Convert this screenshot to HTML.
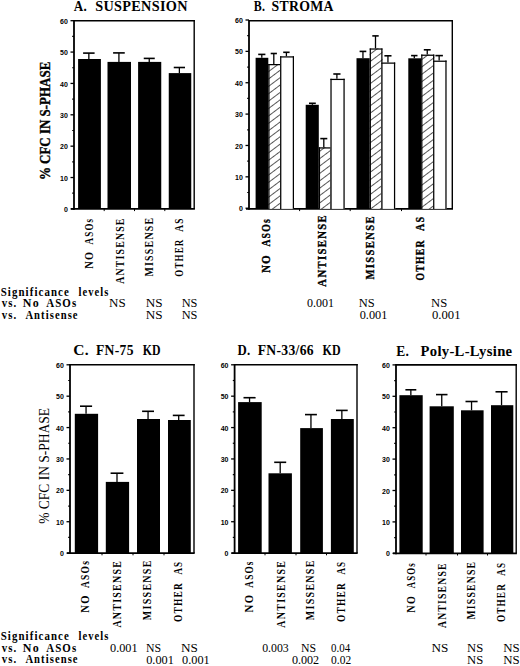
<!DOCTYPE html><html><head><meta charset="utf-8"><style>html,body{margin:0;padding:0;background:#fff;}svg{display:block;}</style></head><body>
<svg width="520" height="666" viewBox="0 0 520 666">
<defs><pattern id="hatch" patternUnits="userSpaceOnUse" width="10" height="5.9" patternTransform="rotate(-37)"><rect width="10" height="5.9" fill="#fff"/><line x1="-1" y1="0" x2="11" y2="0" stroke="#000" stroke-width="1.3"/></pattern></defs>
<rect width="520" height="666" fill="#fff"/>
<line x1="74.00" y1="20.70" x2="194.90" y2="20.70" stroke="#000" stroke-width="1.6"/>
<line x1="194.20" y1="19.90" x2="194.20" y2="208.90" stroke="#000" stroke-width="1.4"/>
<line x1="74.00" y1="19.90" x2="74.00" y2="209.80" stroke="#000" stroke-width="1.8"/>
<line x1="71.00" y1="208.90" x2="194.90" y2="208.90" stroke="#000" stroke-width="1.8"/>
<line x1="70.50" y1="208.90" x2="74.00" y2="208.90" stroke="#000" stroke-width="1.3"/>
<text x="67.90" y="212.00" font-size="7.0" font-family='"Liberation Sans", sans-serif' font-weight="bold" text-anchor="end">0</text>
<line x1="72.20" y1="193.22" x2="74.00" y2="193.22" stroke="#000" stroke-width="1.2"/>
<line x1="70.50" y1="177.53" x2="74.00" y2="177.53" stroke="#000" stroke-width="1.3"/>
<text x="67.90" y="180.63" font-size="7.0" font-family='"Liberation Sans", sans-serif' font-weight="bold" text-anchor="end">10</text>
<line x1="72.20" y1="161.85" x2="74.00" y2="161.85" stroke="#000" stroke-width="1.2"/>
<line x1="70.50" y1="146.17" x2="74.00" y2="146.17" stroke="#000" stroke-width="1.3"/>
<text x="67.90" y="149.27" font-size="7.0" font-family='"Liberation Sans", sans-serif' font-weight="bold" text-anchor="end">20</text>
<line x1="72.20" y1="130.48" x2="74.00" y2="130.48" stroke="#000" stroke-width="1.2"/>
<line x1="70.50" y1="114.80" x2="74.00" y2="114.80" stroke="#000" stroke-width="1.3"/>
<text x="67.90" y="117.90" font-size="7.0" font-family='"Liberation Sans", sans-serif' font-weight="bold" text-anchor="end">30</text>
<line x1="72.20" y1="99.12" x2="74.00" y2="99.12" stroke="#000" stroke-width="1.2"/>
<line x1="70.50" y1="83.43" x2="74.00" y2="83.43" stroke="#000" stroke-width="1.3"/>
<text x="67.90" y="86.53" font-size="7.0" font-family='"Liberation Sans", sans-serif' font-weight="bold" text-anchor="end">40</text>
<line x1="72.20" y1="67.75" x2="74.00" y2="67.75" stroke="#000" stroke-width="1.2"/>
<line x1="70.50" y1="52.07" x2="74.00" y2="52.07" stroke="#000" stroke-width="1.3"/>
<text x="67.90" y="55.17" font-size="7.0" font-family='"Liberation Sans", sans-serif' font-weight="bold" text-anchor="end">50</text>
<line x1="72.20" y1="36.38" x2="74.00" y2="36.38" stroke="#000" stroke-width="1.2"/>
<line x1="70.50" y1="20.70" x2="74.00" y2="20.70" stroke="#000" stroke-width="1.3"/>
<text x="67.90" y="23.80" font-size="7.0" font-family='"Liberation Sans", sans-serif' font-weight="bold" text-anchor="end">60</text>
<line x1="104.20" y1="208.90" x2="104.20" y2="211.10" stroke="#000" stroke-width="1.0"/>
<line x1="134.50" y1="208.90" x2="134.50" y2="211.10" stroke="#000" stroke-width="1.0"/>
<line x1="164.80" y1="208.90" x2="164.80" y2="211.10" stroke="#000" stroke-width="1.0"/>
<rect x="78.10" y="59.00" width="22.80" height="149.90" fill="#000"/>
<line x1="88.85" y1="53.10" x2="88.85" y2="59.00" stroke="#000" stroke-width="1.3"/>
<line x1="83.10" y1="53.10" x2="94.60" y2="53.10" stroke="#000" stroke-width="1.6"/>
<rect x="107.50" y="61.90" width="23.50" height="147.00" fill="#000"/>
<line x1="118.92" y1="52.90" x2="118.92" y2="61.90" stroke="#000" stroke-width="1.3"/>
<line x1="113.10" y1="52.90" x2="124.75" y2="52.90" stroke="#000" stroke-width="1.6"/>
<rect x="138.10" y="61.90" width="23.15" height="147.00" fill="#000"/>
<line x1="149.25" y1="58.40" x2="149.25" y2="61.90" stroke="#000" stroke-width="1.3"/>
<line x1="143.75" y1="58.40" x2="154.75" y2="58.40" stroke="#000" stroke-width="1.6"/>
<rect x="168.75" y="73.10" width="22.50" height="135.80" fill="#000"/>
<line x1="179.38" y1="67.50" x2="179.38" y2="73.10" stroke="#000" stroke-width="1.3"/>
<line x1="173.75" y1="67.50" x2="185.00" y2="67.50" stroke="#000" stroke-width="1.6"/>
<line x1="249.00" y1="20.70" x2="453.00" y2="20.70" stroke="#000" stroke-width="1.6"/>
<line x1="452.30" y1="19.90" x2="452.30" y2="208.90" stroke="#000" stroke-width="1.4"/>
<line x1="249.00" y1="19.90" x2="249.00" y2="209.80" stroke="#000" stroke-width="1.8"/>
<line x1="246.00" y1="208.90" x2="453.00" y2="208.90" stroke="#000" stroke-width="1.8"/>
<line x1="245.50" y1="208.20" x2="249.00" y2="208.20" stroke="#000" stroke-width="1.3"/>
<text x="242.90" y="211.30" font-size="7.0" font-family='"Liberation Sans", sans-serif' font-weight="bold" text-anchor="end">0</text>
<line x1="247.20" y1="192.52" x2="249.00" y2="192.52" stroke="#000" stroke-width="1.2"/>
<line x1="245.50" y1="176.83" x2="249.00" y2="176.83" stroke="#000" stroke-width="1.3"/>
<text x="242.90" y="179.93" font-size="7.0" font-family='"Liberation Sans", sans-serif' font-weight="bold" text-anchor="end">10</text>
<line x1="247.20" y1="161.15" x2="249.00" y2="161.15" stroke="#000" stroke-width="1.2"/>
<line x1="245.50" y1="145.47" x2="249.00" y2="145.47" stroke="#000" stroke-width="1.3"/>
<text x="242.90" y="148.57" font-size="7.0" font-family='"Liberation Sans", sans-serif' font-weight="bold" text-anchor="end">20</text>
<line x1="247.20" y1="129.78" x2="249.00" y2="129.78" stroke="#000" stroke-width="1.2"/>
<line x1="245.50" y1="114.10" x2="249.00" y2="114.10" stroke="#000" stroke-width="1.3"/>
<text x="242.90" y="117.20" font-size="7.0" font-family='"Liberation Sans", sans-serif' font-weight="bold" text-anchor="end">30</text>
<line x1="247.20" y1="98.42" x2="249.00" y2="98.42" stroke="#000" stroke-width="1.2"/>
<line x1="245.50" y1="82.73" x2="249.00" y2="82.73" stroke="#000" stroke-width="1.3"/>
<text x="242.90" y="85.83" font-size="7.0" font-family='"Liberation Sans", sans-serif' font-weight="bold" text-anchor="end">40</text>
<line x1="247.20" y1="67.05" x2="249.00" y2="67.05" stroke="#000" stroke-width="1.2"/>
<line x1="245.50" y1="51.37" x2="249.00" y2="51.37" stroke="#000" stroke-width="1.3"/>
<text x="242.90" y="54.47" font-size="7.0" font-family='"Liberation Sans", sans-serif' font-weight="bold" text-anchor="end">50</text>
<line x1="247.20" y1="35.68" x2="249.00" y2="35.68" stroke="#000" stroke-width="1.2"/>
<line x1="245.50" y1="20.00" x2="249.00" y2="20.00" stroke="#000" stroke-width="1.3"/>
<text x="242.90" y="23.10" font-size="7.0" font-family='"Liberation Sans", sans-serif' font-weight="bold" text-anchor="end">60</text>
<line x1="299.60" y1="208.90" x2="299.60" y2="211.10" stroke="#000" stroke-width="1.0"/>
<line x1="350.20" y1="208.90" x2="350.20" y2="211.10" stroke="#000" stroke-width="1.0"/>
<line x1="401.50" y1="208.90" x2="401.50" y2="211.10" stroke="#000" stroke-width="1.0"/>
<rect x="268.30" y="64.00" width="13.00" height="144.90" fill="url(#hatch)"/>
<line x1="268.93" y1="64.00" x2="268.93" y2="208.90" stroke="#000" stroke-width="1.25"/>
<line x1="280.68" y1="64.00" x2="280.68" y2="208.90" stroke="#000" stroke-width="1.25"/>
<line x1="268.30" y1="64.62" x2="281.30" y2="64.62" stroke="#000" stroke-width="1.25"/>
<line x1="273.80" y1="53.50" x2="273.80" y2="64.00" stroke="#000" stroke-width="1.3"/>
<line x1="270.70" y1="53.50" x2="276.90" y2="53.50" stroke="#000" stroke-width="1.6"/>
<rect x="280.10" y="56.30" width="13.90" height="152.60" fill="#fff"/>
<line x1="280.73" y1="56.30" x2="280.73" y2="208.90" stroke="#000" stroke-width="1.25"/>
<line x1="293.38" y1="56.30" x2="293.38" y2="208.90" stroke="#000" stroke-width="1.25"/>
<line x1="280.10" y1="56.92" x2="294.00" y2="56.92" stroke="#000" stroke-width="1.25"/>
<line x1="286.40" y1="52.30" x2="286.40" y2="56.30" stroke="#000" stroke-width="1.3"/>
<line x1="283.20" y1="52.30" x2="289.60" y2="52.30" stroke="#000" stroke-width="1.6"/>
<rect x="255.60" y="57.80" width="12.70" height="151.10" fill="#000"/>
<line x1="261.80" y1="54.40" x2="261.80" y2="57.80" stroke="#000" stroke-width="1.3"/>
<line x1="258.20" y1="54.40" x2="265.40" y2="54.40" stroke="#000" stroke-width="1.6"/>
<rect x="318.80" y="147.30" width="12.80" height="61.60" fill="url(#hatch)"/>
<line x1="319.43" y1="147.30" x2="319.43" y2="208.90" stroke="#000" stroke-width="1.25"/>
<line x1="330.98" y1="147.30" x2="330.98" y2="208.90" stroke="#000" stroke-width="1.25"/>
<line x1="318.80" y1="147.93" x2="331.60" y2="147.93" stroke="#000" stroke-width="1.25"/>
<line x1="323.80" y1="138.60" x2="323.80" y2="147.30" stroke="#000" stroke-width="1.3"/>
<line x1="320.30" y1="138.60" x2="327.30" y2="138.60" stroke="#000" stroke-width="1.6"/>
<rect x="330.40" y="78.80" width="14.30" height="130.10" fill="#fff"/>
<line x1="331.02" y1="78.80" x2="331.02" y2="208.90" stroke="#000" stroke-width="1.25"/>
<line x1="344.07" y1="78.80" x2="344.07" y2="208.90" stroke="#000" stroke-width="1.25"/>
<line x1="330.40" y1="79.42" x2="344.70" y2="79.42" stroke="#000" stroke-width="1.25"/>
<line x1="336.90" y1="74.00" x2="336.90" y2="78.80" stroke="#000" stroke-width="1.3"/>
<line x1="333.30" y1="74.00" x2="340.50" y2="74.00" stroke="#000" stroke-width="1.6"/>
<rect x="305.70" y="104.80" width="13.10" height="104.10" fill="#000"/>
<line x1="312.40" y1="103.30" x2="312.40" y2="104.80" stroke="#000" stroke-width="1.3"/>
<line x1="309.00" y1="103.30" x2="315.80" y2="103.30" stroke="#000" stroke-width="1.6"/>
<rect x="369.70" y="48.40" width="12.80" height="160.50" fill="url(#hatch)"/>
<line x1="370.32" y1="48.40" x2="370.32" y2="208.90" stroke="#000" stroke-width="1.25"/>
<line x1="381.88" y1="48.40" x2="381.88" y2="208.90" stroke="#000" stroke-width="1.25"/>
<line x1="369.70" y1="49.02" x2="382.50" y2="49.02" stroke="#000" stroke-width="1.25"/>
<line x1="375.50" y1="35.90" x2="375.50" y2="48.40" stroke="#000" stroke-width="1.3"/>
<line x1="372.30" y1="35.90" x2="378.70" y2="35.90" stroke="#000" stroke-width="1.6"/>
<rect x="381.30" y="62.50" width="13.90" height="146.40" fill="#fff"/>
<line x1="381.93" y1="62.50" x2="381.93" y2="208.90" stroke="#000" stroke-width="1.25"/>
<line x1="394.57" y1="62.50" x2="394.57" y2="208.90" stroke="#000" stroke-width="1.25"/>
<line x1="381.30" y1="63.12" x2="395.20" y2="63.12" stroke="#000" stroke-width="1.25"/>
<line x1="387.95" y1="55.80" x2="387.95" y2="62.50" stroke="#000" stroke-width="1.3"/>
<line x1="384.40" y1="55.80" x2="391.50" y2="55.80" stroke="#000" stroke-width="1.6"/>
<rect x="356.50" y="58.20" width="13.20" height="150.70" fill="#000"/>
<line x1="362.95" y1="51.40" x2="362.95" y2="58.20" stroke="#000" stroke-width="1.3"/>
<line x1="359.60" y1="51.40" x2="366.30" y2="51.40" stroke="#000" stroke-width="1.6"/>
<rect x="421.20" y="54.60" width="13.10" height="154.30" fill="url(#hatch)"/>
<line x1="421.82" y1="54.60" x2="421.82" y2="208.90" stroke="#000" stroke-width="1.25"/>
<line x1="433.68" y1="54.60" x2="433.68" y2="208.90" stroke="#000" stroke-width="1.25"/>
<line x1="421.20" y1="55.23" x2="434.30" y2="55.23" stroke="#000" stroke-width="1.25"/>
<line x1="427.25" y1="49.80" x2="427.25" y2="54.60" stroke="#000" stroke-width="1.3"/>
<line x1="423.80" y1="49.80" x2="430.70" y2="49.80" stroke="#000" stroke-width="1.6"/>
<rect x="433.10" y="60.60" width="13.50" height="148.30" fill="#fff"/>
<line x1="433.73" y1="60.60" x2="433.73" y2="208.90" stroke="#000" stroke-width="1.25"/>
<line x1="445.98" y1="60.60" x2="445.98" y2="208.90" stroke="#000" stroke-width="1.25"/>
<line x1="433.10" y1="61.23" x2="446.60" y2="61.23" stroke="#000" stroke-width="1.25"/>
<line x1="439.15" y1="55.60" x2="439.15" y2="60.60" stroke="#000" stroke-width="1.3"/>
<line x1="435.40" y1="55.60" x2="442.90" y2="55.60" stroke="#000" stroke-width="1.6"/>
<rect x="408.30" y="58.30" width="12.90" height="150.60" fill="#000"/>
<line x1="414.30" y1="55.60" x2="414.30" y2="58.30" stroke="#000" stroke-width="1.3"/>
<line x1="411.10" y1="55.60" x2="417.50" y2="55.60" stroke="#000" stroke-width="1.6"/>
<line x1="70.00" y1="364.80" x2="194.70" y2="364.80" stroke="#000" stroke-width="1.6"/>
<line x1="194.00" y1="364.00" x2="194.00" y2="553.10" stroke="#000" stroke-width="1.4"/>
<line x1="70.00" y1="364.00" x2="70.00" y2="554.00" stroke="#000" stroke-width="1.8"/>
<line x1="67.00" y1="553.10" x2="194.70" y2="553.10" stroke="#000" stroke-width="1.8"/>
<line x1="66.50" y1="553.10" x2="70.00" y2="553.10" stroke="#000" stroke-width="1.3"/>
<text x="63.90" y="556.20" font-size="7.0" font-family='"Liberation Sans", sans-serif' font-weight="bold" text-anchor="end">0</text>
<line x1="68.20" y1="537.41" x2="70.00" y2="537.41" stroke="#000" stroke-width="1.2"/>
<line x1="66.50" y1="521.72" x2="70.00" y2="521.72" stroke="#000" stroke-width="1.3"/>
<text x="63.90" y="524.82" font-size="7.0" font-family='"Liberation Sans", sans-serif' font-weight="bold" text-anchor="end">10</text>
<line x1="68.20" y1="506.03" x2="70.00" y2="506.03" stroke="#000" stroke-width="1.2"/>
<line x1="66.50" y1="490.33" x2="70.00" y2="490.33" stroke="#000" stroke-width="1.3"/>
<text x="63.90" y="493.43" font-size="7.0" font-family='"Liberation Sans", sans-serif' font-weight="bold" text-anchor="end">20</text>
<line x1="68.20" y1="474.64" x2="70.00" y2="474.64" stroke="#000" stroke-width="1.2"/>
<line x1="66.50" y1="458.95" x2="70.00" y2="458.95" stroke="#000" stroke-width="1.3"/>
<text x="63.90" y="462.05" font-size="7.0" font-family='"Liberation Sans", sans-serif' font-weight="bold" text-anchor="end">30</text>
<line x1="68.20" y1="443.26" x2="70.00" y2="443.26" stroke="#000" stroke-width="1.2"/>
<line x1="66.50" y1="427.57" x2="70.00" y2="427.57" stroke="#000" stroke-width="1.3"/>
<text x="63.90" y="430.67" font-size="7.0" font-family='"Liberation Sans", sans-serif' font-weight="bold" text-anchor="end">40</text>
<line x1="68.20" y1="411.88" x2="70.00" y2="411.88" stroke="#000" stroke-width="1.2"/>
<line x1="66.50" y1="396.18" x2="70.00" y2="396.18" stroke="#000" stroke-width="1.3"/>
<text x="63.90" y="399.28" font-size="7.0" font-family='"Liberation Sans", sans-serif' font-weight="bold" text-anchor="end">50</text>
<line x1="68.20" y1="380.49" x2="70.00" y2="380.49" stroke="#000" stroke-width="1.2"/>
<line x1="66.50" y1="364.80" x2="70.00" y2="364.80" stroke="#000" stroke-width="1.3"/>
<text x="63.90" y="367.90" font-size="7.0" font-family='"Liberation Sans", sans-serif' font-weight="bold" text-anchor="end">60</text>
<line x1="102.00" y1="553.10" x2="102.00" y2="555.30" stroke="#000" stroke-width="1.0"/>
<line x1="133.00" y1="553.10" x2="133.00" y2="555.30" stroke="#000" stroke-width="1.0"/>
<line x1="164.00" y1="553.10" x2="164.00" y2="555.30" stroke="#000" stroke-width="1.0"/>
<rect x="74.80" y="413.80" width="23.30" height="139.30" fill="#000"/>
<line x1="86.05" y1="406.20" x2="86.05" y2="413.80" stroke="#000" stroke-width="1.3"/>
<line x1="80.00" y1="406.20" x2="92.10" y2="406.20" stroke="#000" stroke-width="1.6"/>
<rect x="105.80" y="481.90" width="23.30" height="71.20" fill="#000"/>
<line x1="117.00" y1="473.20" x2="117.00" y2="481.90" stroke="#000" stroke-width="1.3"/>
<line x1="110.60" y1="473.20" x2="123.40" y2="473.20" stroke="#000" stroke-width="1.6"/>
<rect x="137.00" y="419.00" width="23.00" height="134.10" fill="#000"/>
<line x1="148.05" y1="411.30" x2="148.05" y2="419.00" stroke="#000" stroke-width="1.3"/>
<line x1="142.10" y1="411.30" x2="154.00" y2="411.30" stroke="#000" stroke-width="1.6"/>
<rect x="168.00" y="420.00" width="22.80" height="133.10" fill="#000"/>
<line x1="178.70" y1="415.40" x2="178.70" y2="420.00" stroke="#000" stroke-width="1.3"/>
<line x1="172.80" y1="415.40" x2="184.60" y2="415.40" stroke="#000" stroke-width="1.6"/>
<line x1="234.60" y1="364.80" x2="357.70" y2="364.80" stroke="#000" stroke-width="1.6"/>
<line x1="357.00" y1="364.00" x2="357.00" y2="553.10" stroke="#000" stroke-width="1.4"/>
<line x1="234.60" y1="364.00" x2="234.60" y2="554.00" stroke="#000" stroke-width="1.8"/>
<line x1="231.60" y1="553.10" x2="357.70" y2="553.10" stroke="#000" stroke-width="1.8"/>
<line x1="231.10" y1="553.10" x2="234.60" y2="553.10" stroke="#000" stroke-width="1.3"/>
<text x="228.50" y="556.20" font-size="7.0" font-family='"Liberation Sans", sans-serif' font-weight="bold" text-anchor="end">0</text>
<line x1="232.80" y1="537.41" x2="234.60" y2="537.41" stroke="#000" stroke-width="1.2"/>
<line x1="231.10" y1="521.72" x2="234.60" y2="521.72" stroke="#000" stroke-width="1.3"/>
<text x="228.50" y="524.82" font-size="7.0" font-family='"Liberation Sans", sans-serif' font-weight="bold" text-anchor="end">10</text>
<line x1="232.80" y1="506.03" x2="234.60" y2="506.03" stroke="#000" stroke-width="1.2"/>
<line x1="231.10" y1="490.33" x2="234.60" y2="490.33" stroke="#000" stroke-width="1.3"/>
<text x="228.50" y="493.43" font-size="7.0" font-family='"Liberation Sans", sans-serif' font-weight="bold" text-anchor="end">20</text>
<line x1="232.80" y1="474.64" x2="234.60" y2="474.64" stroke="#000" stroke-width="1.2"/>
<line x1="231.10" y1="458.95" x2="234.60" y2="458.95" stroke="#000" stroke-width="1.3"/>
<text x="228.50" y="462.05" font-size="7.0" font-family='"Liberation Sans", sans-serif' font-weight="bold" text-anchor="end">30</text>
<line x1="232.80" y1="443.26" x2="234.60" y2="443.26" stroke="#000" stroke-width="1.2"/>
<line x1="231.10" y1="427.57" x2="234.60" y2="427.57" stroke="#000" stroke-width="1.3"/>
<text x="228.50" y="430.67" font-size="7.0" font-family='"Liberation Sans", sans-serif' font-weight="bold" text-anchor="end">40</text>
<line x1="232.80" y1="411.88" x2="234.60" y2="411.88" stroke="#000" stroke-width="1.2"/>
<line x1="231.10" y1="396.18" x2="234.60" y2="396.18" stroke="#000" stroke-width="1.3"/>
<text x="228.50" y="399.28" font-size="7.0" font-family='"Liberation Sans", sans-serif' font-weight="bold" text-anchor="end">50</text>
<line x1="232.80" y1="380.49" x2="234.60" y2="380.49" stroke="#000" stroke-width="1.2"/>
<line x1="231.10" y1="364.80" x2="234.60" y2="364.80" stroke="#000" stroke-width="1.3"/>
<text x="228.50" y="367.90" font-size="7.0" font-family='"Liberation Sans", sans-serif' font-weight="bold" text-anchor="end">60</text>
<line x1="265.00" y1="553.10" x2="265.00" y2="555.30" stroke="#000" stroke-width="1.0"/>
<line x1="296.00" y1="553.10" x2="296.00" y2="555.30" stroke="#000" stroke-width="1.0"/>
<line x1="326.50" y1="553.10" x2="326.50" y2="555.30" stroke="#000" stroke-width="1.0"/>
<rect x="238.10" y="402.10" width="23.60" height="151.00" fill="#000"/>
<line x1="249.55" y1="397.70" x2="249.55" y2="402.10" stroke="#000" stroke-width="1.3"/>
<line x1="243.50" y1="397.70" x2="255.60" y2="397.70" stroke="#000" stroke-width="1.6"/>
<rect x="268.50" y="473.30" width="23.40" height="79.80" fill="#000"/>
<line x1="280.20" y1="462.30" x2="280.20" y2="473.30" stroke="#000" stroke-width="1.3"/>
<line x1="274.20" y1="462.30" x2="286.20" y2="462.30" stroke="#000" stroke-width="1.6"/>
<rect x="300.20" y="428.10" width="22.70" height="125.00" fill="#000"/>
<line x1="310.95" y1="414.60" x2="310.95" y2="428.10" stroke="#000" stroke-width="1.3"/>
<line x1="305.00" y1="414.60" x2="316.90" y2="414.60" stroke="#000" stroke-width="1.6"/>
<rect x="330.90" y="419.00" width="22.90" height="134.10" fill="#000"/>
<line x1="341.85" y1="410.40" x2="341.85" y2="419.00" stroke="#000" stroke-width="1.3"/>
<line x1="336.00" y1="410.40" x2="347.70" y2="410.40" stroke="#000" stroke-width="1.6"/>
<line x1="396.00" y1="364.90" x2="516.90" y2="364.90" stroke="#000" stroke-width="1.6"/>
<line x1="516.20" y1="364.10" x2="516.20" y2="553.30" stroke="#000" stroke-width="1.4"/>
<line x1="396.00" y1="364.10" x2="396.00" y2="554.20" stroke="#000" stroke-width="1.8"/>
<line x1="393.00" y1="553.30" x2="516.90" y2="553.30" stroke="#000" stroke-width="1.8"/>
<line x1="392.50" y1="553.30" x2="396.00" y2="553.30" stroke="#000" stroke-width="1.3"/>
<text x="389.90" y="556.40" font-size="7.0" font-family='"Liberation Sans", sans-serif' font-weight="bold" text-anchor="end">0</text>
<line x1="394.20" y1="537.60" x2="396.00" y2="537.60" stroke="#000" stroke-width="1.2"/>
<line x1="392.50" y1="521.90" x2="396.00" y2="521.90" stroke="#000" stroke-width="1.3"/>
<text x="389.90" y="525.00" font-size="7.0" font-family='"Liberation Sans", sans-serif' font-weight="bold" text-anchor="end">10</text>
<line x1="394.20" y1="506.20" x2="396.00" y2="506.20" stroke="#000" stroke-width="1.2"/>
<line x1="392.50" y1="490.50" x2="396.00" y2="490.50" stroke="#000" stroke-width="1.3"/>
<text x="389.90" y="493.60" font-size="7.0" font-family='"Liberation Sans", sans-serif' font-weight="bold" text-anchor="end">20</text>
<line x1="394.20" y1="474.80" x2="396.00" y2="474.80" stroke="#000" stroke-width="1.2"/>
<line x1="392.50" y1="459.10" x2="396.00" y2="459.10" stroke="#000" stroke-width="1.3"/>
<text x="389.90" y="462.20" font-size="7.0" font-family='"Liberation Sans", sans-serif' font-weight="bold" text-anchor="end">30</text>
<line x1="394.20" y1="443.40" x2="396.00" y2="443.40" stroke="#000" stroke-width="1.2"/>
<line x1="392.50" y1="427.70" x2="396.00" y2="427.70" stroke="#000" stroke-width="1.3"/>
<text x="389.90" y="430.80" font-size="7.0" font-family='"Liberation Sans", sans-serif' font-weight="bold" text-anchor="end">40</text>
<line x1="394.20" y1="412.00" x2="396.00" y2="412.00" stroke="#000" stroke-width="1.2"/>
<line x1="392.50" y1="396.30" x2="396.00" y2="396.30" stroke="#000" stroke-width="1.3"/>
<text x="389.90" y="399.40" font-size="7.0" font-family='"Liberation Sans", sans-serif' font-weight="bold" text-anchor="end">50</text>
<line x1="394.20" y1="380.60" x2="396.00" y2="380.60" stroke="#000" stroke-width="1.2"/>
<line x1="392.50" y1="364.90" x2="396.00" y2="364.90" stroke="#000" stroke-width="1.3"/>
<text x="389.90" y="368.00" font-size="7.0" font-family='"Liberation Sans", sans-serif' font-weight="bold" text-anchor="end">60</text>
<line x1="426.00" y1="553.30" x2="426.00" y2="555.50" stroke="#000" stroke-width="1.0"/>
<line x1="457.50" y1="553.30" x2="457.50" y2="555.50" stroke="#000" stroke-width="1.0"/>
<line x1="487.50" y1="553.30" x2="487.50" y2="555.50" stroke="#000" stroke-width="1.0"/>
<rect x="399.40" y="395.20" width="23.30" height="158.10" fill="#000"/>
<line x1="410.85" y1="389.80" x2="410.85" y2="395.20" stroke="#000" stroke-width="1.3"/>
<line x1="405.40" y1="389.80" x2="416.30" y2="389.80" stroke="#000" stroke-width="1.6"/>
<rect x="429.60" y="406.30" width="24.20" height="147.00" fill="#000"/>
<line x1="441.75" y1="394.60" x2="441.75" y2="406.30" stroke="#000" stroke-width="1.3"/>
<line x1="436.00" y1="394.60" x2="447.50" y2="394.60" stroke="#000" stroke-width="1.6"/>
<rect x="461.00" y="410.30" width="22.60" height="143.00" fill="#000"/>
<line x1="471.55" y1="401.50" x2="471.55" y2="410.30" stroke="#000" stroke-width="1.3"/>
<line x1="465.50" y1="401.50" x2="477.60" y2="401.50" stroke="#000" stroke-width="1.6"/>
<rect x="491.00" y="405.20" width="22.30" height="148.10" fill="#000"/>
<line x1="501.55" y1="391.80" x2="501.55" y2="405.20" stroke="#000" stroke-width="1.3"/>
<line x1="495.50" y1="391.80" x2="507.60" y2="391.80" stroke="#000" stroke-width="1.6"/>
<text x="73.800" y="11.400" font-size="14.0" font-family='"Liberation Serif", serif' font-weight="bold" textLength="13.305" lengthAdjust="spacingAndGlyphs" letter-spacing="0.3">A.</text>
<text x="95.200" y="11.400" font-size="14.0" font-family='"Liberation Serif", serif' font-weight="bold" textLength="92.560" lengthAdjust="spacingAndGlyphs" letter-spacing="0.3">SUSPENSION</text>
<text x="49.700" y="180.100" font-size="14" font-family='"Liberation Serif", serif' font-weight="bold" textLength="118.428" lengthAdjust="spacingAndGlyphs" stroke="#000" stroke-width="0.35" transform="rotate(-90 49.700 180.100)">% CFC IN S-PHASE</text>
<text x="253.700" y="11.300" font-size="14.0" font-family='"Liberation Serif", serif' font-weight="bold" textLength="11.435" lengthAdjust="spacingAndGlyphs" letter-spacing="0.3">B.</text>
<text x="271.500" y="11.300" font-size="14.0" font-family='"Liberation Serif", serif' font-weight="bold" textLength="62.230" lengthAdjust="spacingAndGlyphs" letter-spacing="0.3">STROMA</text>
<text x="73.200" y="355.000" font-size="14.0" font-family='"Liberation Serif", serif' font-weight="bold" textLength="15.723" lengthAdjust="spacingAndGlyphs" letter-spacing="0.3">C.</text>
<text x="96.000" y="355.000" font-size="14.0" font-family='"Liberation Serif", serif' font-weight="bold" textLength="37.820" lengthAdjust="spacingAndGlyphs" letter-spacing="0.3">FN-75</text>
<text x="142.700" y="355.000" font-size="14.0" font-family='"Liberation Serif", serif' font-weight="bold" textLength="18.214" lengthAdjust="spacingAndGlyphs" letter-spacing="0.3">KD</text>
<text x="49.000" y="523.800" font-size="14" font-family='"Liberation Serif", serif' textLength="115.801" lengthAdjust="spacingAndGlyphs" transform="rotate(-90 49.000 523.800)">% CFC IN S-PHASE</text>
<text x="237.500" y="355.000" font-size="14.0" font-family='"Liberation Serif", serif' font-weight="bold" textLength="13.028" lengthAdjust="spacingAndGlyphs" letter-spacing="0.3">D.</text>
<text x="257.700" y="355.000" font-size="14.0" font-family='"Liberation Serif", serif' font-weight="bold" textLength="56.216" lengthAdjust="spacingAndGlyphs" letter-spacing="0.3">FN-33/66</text>
<text x="322.400" y="355.000" font-size="14.0" font-family='"Liberation Serif", serif' font-weight="bold" textLength="18.522" lengthAdjust="spacingAndGlyphs" letter-spacing="0.3">KD</text>
<text x="396.250" y="355.500" font-size="14.0" font-family='"Liberation Serif", serif' font-weight="bold" textLength="12.989" lengthAdjust="spacingAndGlyphs" letter-spacing="0.3">E.</text>
<text x="420.500" y="355.500" font-size="14.0" font-family='"Liberation Serif", serif' font-weight="bold" textLength="91.924" lengthAdjust="spacingAndGlyphs" letter-spacing="0.3">Poly-L-Lysine</text>
<text x="92.600" y="244.400" font-size="12.3" font-family='"Liberation Serif", serif' font-weight="bold" textLength="26.612" lengthAdjust="spacingAndGlyphs" letter-spacing="1.6" transform="rotate(-90 92.600 244.400)">ASOs</text>
<text x="92.600" y="268.750" font-size="12.3" font-family='"Liberation Serif", serif' font-weight="bold" textLength="18.075" lengthAdjust="spacingAndGlyphs" letter-spacing="1.6" transform="rotate(-90 92.600 268.750)">NO</text>
<text x="124.100" y="283.850" font-size="12.3" font-family='"Liberation Serif", serif' font-weight="bold" textLength="66.485" lengthAdjust="spacingAndGlyphs" letter-spacing="1.6" transform="rotate(-90 124.100 283.850)">ANTISENSE</text>
<text x="152.900" y="276.600" font-size="12.3" font-family='"Liberation Serif", serif' font-weight="bold" textLength="60.007" lengthAdjust="spacingAndGlyphs" letter-spacing="1.6" transform="rotate(-90 152.900 276.600)">MISSENSE</text>
<text x="182.700" y="231.750" font-size="12.3" font-family='"Liberation Serif", serif' font-weight="bold" textLength="14.278" lengthAdjust="spacingAndGlyphs" letter-spacing="1.6" transform="rotate(-90 182.700 231.750)">AS</text>
<text x="182.700" y="276.700" font-size="12.3" font-family='"Liberation Serif", serif' font-weight="bold" textLength="38.173" lengthAdjust="spacingAndGlyphs" letter-spacing="1.6" transform="rotate(-90 182.700 276.700)">OTHER</text>
<text x="270.200" y="246.550" font-size="12.3" font-family='"Liberation Serif", serif' font-weight="bold" textLength="28.458" lengthAdjust="spacingAndGlyphs" letter-spacing="1.6" stroke="#000" stroke-width="0.35" transform="rotate(-90 270.200 246.550)">ASOs</text>
<text x="270.200" y="272.800" font-size="12.3" font-family='"Liberation Serif", serif' font-weight="bold" textLength="18.893" lengthAdjust="spacingAndGlyphs" letter-spacing="1.6" stroke="#000" stroke-width="0.35" transform="rotate(-90 270.200 272.800)">NO</text>
<text x="325.800" y="286.650" font-size="12.3" font-family='"Liberation Serif", serif' font-weight="bold" textLength="72.640" lengthAdjust="spacingAndGlyphs" letter-spacing="1.6" stroke="#000" stroke-width="0.35" transform="rotate(-90 325.800 286.650)">ANTISENSE</text>
<text x="373.900" y="279.600" font-size="12.3" font-family='"Liberation Serif", serif' font-weight="bold" textLength="64.521" lengthAdjust="spacingAndGlyphs" letter-spacing="1.6" stroke="#000" stroke-width="0.35" transform="rotate(-90 373.900 279.600)">MISSENSE</text>
<text x="423.900" y="230.950" font-size="12.3" font-family='"Liberation Serif", serif' font-weight="bold" textLength="15.471" lengthAdjust="spacingAndGlyphs" letter-spacing="1.6" stroke="#000" stroke-width="0.35" transform="rotate(-90 423.900 230.950)">AS</text>
<text x="423.900" y="280.600" font-size="12.3" font-family='"Liberation Serif", serif' font-weight="bold" textLength="41.535" lengthAdjust="spacingAndGlyphs" letter-spacing="1.6" stroke="#000" stroke-width="0.35" transform="rotate(-90 423.900 280.600)">OTHER</text>
<text x="88.600" y="587.950" font-size="12.3" font-family='"Liberation Serif", serif' font-weight="bold" textLength="28.007" lengthAdjust="spacingAndGlyphs" letter-spacing="1.6" transform="rotate(-90 88.600 587.950)">ASOs</text>
<text x="88.600" y="612.750" font-size="12.3" font-family='"Liberation Serif", serif' font-weight="bold" textLength="18.579" lengthAdjust="spacingAndGlyphs" letter-spacing="1.6" transform="rotate(-90 88.600 612.750)">NO</text>
<text x="121.000" y="627.550" font-size="12.3" font-family='"Liberation Serif", serif' font-weight="bold" textLength="67.608" lengthAdjust="spacingAndGlyphs" letter-spacing="1.6" transform="rotate(-90 121.000 627.550)">ANTISENSE</text>
<text x="150.800" y="620.150" font-size="12.3" font-family='"Liberation Serif", serif' font-weight="bold" textLength="60.729" lengthAdjust="spacingAndGlyphs" letter-spacing="1.6" transform="rotate(-90 150.800 620.150)">MISSENSE</text>
<text x="182.200" y="574.600" font-size="12.3" font-family='"Liberation Serif", serif' font-weight="bold" textLength="13.833" lengthAdjust="spacingAndGlyphs" letter-spacing="1.6" transform="rotate(-90 182.200 574.600)">AS</text>
<text x="182.200" y="622.050" font-size="12.3" font-family='"Liberation Serif", serif' font-weight="bold" textLength="40.060" lengthAdjust="spacingAndGlyphs" letter-spacing="1.6" transform="rotate(-90 182.200 622.050)">OTHER</text>
<text x="252.600" y="587.700" font-size="12.3" font-family='"Liberation Serif", serif' font-weight="bold" textLength="27.271" lengthAdjust="spacingAndGlyphs" letter-spacing="1.6" transform="rotate(-90 252.600 587.700)">ASOs</text>
<text x="252.600" y="612.500" font-size="12.3" font-family='"Liberation Serif", serif' font-weight="bold" textLength="18.969" lengthAdjust="spacingAndGlyphs" letter-spacing="1.6" transform="rotate(-90 252.600 612.500)">NO</text>
<text x="285.000" y="627.650" font-size="12.3" font-family='"Liberation Serif", serif' font-weight="bold" textLength="67.813" lengthAdjust="spacingAndGlyphs" letter-spacing="1.6" transform="rotate(-90 285.000 627.650)">ANTISENSE</text>
<text x="314.300" y="620.150" font-size="12.3" font-family='"Liberation Serif", serif' font-weight="bold" textLength="60.729" lengthAdjust="spacingAndGlyphs" letter-spacing="1.6" transform="rotate(-90 314.300 620.150)">MISSENSE</text>
<text x="344.700" y="574.600" font-size="12.3" font-family='"Liberation Serif", serif' font-weight="bold" textLength="13.833" lengthAdjust="spacingAndGlyphs" letter-spacing="1.6" transform="rotate(-90 344.700 574.600)">AS</text>
<text x="344.700" y="622.050" font-size="12.3" font-family='"Liberation Serif", serif' font-weight="bold" textLength="40.060" lengthAdjust="spacingAndGlyphs" letter-spacing="1.6" transform="rotate(-90 344.700 622.050)">OTHER</text>
<text x="414.600" y="588.300" font-size="12.3" font-family='"Liberation Serif", serif' font-weight="bold" textLength="26.209" lengthAdjust="spacingAndGlyphs" letter-spacing="1.6" transform="rotate(-90 414.600 588.300)">ASOs</text>
<text x="414.600" y="612.700" font-size="12.3" font-family='"Liberation Serif", serif' font-weight="bold" textLength="17.808" lengthAdjust="spacingAndGlyphs" letter-spacing="1.6" transform="rotate(-90 414.600 612.700)">NO</text>
<text x="446.400" y="628.000" font-size="12.3" font-family='"Liberation Serif", serif' font-weight="bold" textLength="65.659" lengthAdjust="spacingAndGlyphs" letter-spacing="1.6" transform="rotate(-90 446.400 628.000)">ANTISENSE</text>
<text x="474.800" y="619.500" font-size="12.3" font-family='"Liberation Serif", serif' font-weight="bold" textLength="58.757" lengthAdjust="spacingAndGlyphs" letter-spacing="1.6" transform="rotate(-90 474.800 619.500)">MISSENSE</text>
<text x="504.700" y="575.700" font-size="12.3" font-family='"Liberation Serif", serif' font-weight="bold" textLength="13.833" lengthAdjust="spacingAndGlyphs" letter-spacing="1.6" transform="rotate(-90 504.700 575.700)">AS</text>
<text x="504.700" y="622.050" font-size="12.3" font-family='"Liberation Serif", serif' font-weight="bold" textLength="39.011" lengthAdjust="spacingAndGlyphs" letter-spacing="1.6" transform="rotate(-90 504.700 622.050)">OTHER</text>
<text x="0.700" y="295.500" font-size="12.0" font-family='"Liberation Serif", serif' font-weight="bold" textLength="69.179" lengthAdjust="spacingAndGlyphs" letter-spacing="1.2">Significance</text>
<text x="78.500" y="295.500" font-size="12.0" font-family='"Liberation Serif", serif' font-weight="bold" textLength="30.958" lengthAdjust="spacingAndGlyphs" letter-spacing="1.2">levels</text>
<text x="1.800" y="307.400" font-size="12.0" font-family='"Liberation Serif", serif' font-weight="bold" textLength="15.617" lengthAdjust="spacingAndGlyphs" letter-spacing="1.2">vs.</text>
<text x="22.800" y="307.400" font-size="12.0" font-family='"Liberation Serif", serif' font-weight="bold" textLength="17.078" lengthAdjust="spacingAndGlyphs" letter-spacing="1.2">No</text>
<text x="46.200" y="307.400" font-size="12.0" font-family='"Liberation Serif", serif' font-weight="bold" textLength="31.051" lengthAdjust="spacingAndGlyphs" letter-spacing="1.2">ASOs</text>
<text x="1.800" y="318.900" font-size="12.0" font-family='"Liberation Serif", serif' font-weight="bold" textLength="15.617" lengthAdjust="spacingAndGlyphs" letter-spacing="1.2">vs.</text>
<text x="25.400" y="318.900" font-size="12.0" font-family='"Liberation Serif", serif' font-weight="bold" textLength="53.216" lengthAdjust="spacingAndGlyphs" letter-spacing="1.2">Antisense</text>
<text x="0.700" y="640.000" font-size="12.0" font-family='"Liberation Serif", serif' font-weight="bold" textLength="69.179" lengthAdjust="spacingAndGlyphs" letter-spacing="1.2">Significance</text>
<text x="78.500" y="640.000" font-size="12.0" font-family='"Liberation Serif", serif' font-weight="bold" textLength="30.958" lengthAdjust="spacingAndGlyphs" letter-spacing="1.2">levels</text>
<text x="1.800" y="651.900" font-size="12.0" font-family='"Liberation Serif", serif' font-weight="bold" textLength="15.617" lengthAdjust="spacingAndGlyphs" letter-spacing="1.2">vs.</text>
<text x="22.800" y="651.900" font-size="12.0" font-family='"Liberation Serif", serif' font-weight="bold" textLength="17.078" lengthAdjust="spacingAndGlyphs" letter-spacing="1.2">No</text>
<text x="46.200" y="651.900" font-size="12.0" font-family='"Liberation Serif", serif' font-weight="bold" textLength="31.051" lengthAdjust="spacingAndGlyphs" letter-spacing="1.2">ASOs</text>
<text x="1.800" y="663.400" font-size="12.0" font-family='"Liberation Serif", serif' font-weight="bold" textLength="15.617" lengthAdjust="spacingAndGlyphs" letter-spacing="1.2">vs.</text>
<text x="25.400" y="663.400" font-size="12.0" font-family='"Liberation Serif", serif' font-weight="bold" textLength="53.216" lengthAdjust="spacingAndGlyphs" letter-spacing="1.2">Antisense</text>
<text x="109.000" y="307.000" font-size="11.8" font-family='"Liberation Serif", serif' textLength="16.628" lengthAdjust="spacingAndGlyphs">NS</text>
<text x="145.700" y="307.000" font-size="11.8" font-family='"Liberation Serif", serif' textLength="16.868" lengthAdjust="spacingAndGlyphs">NS</text>
<text x="181.700" y="307.000" font-size="11.8" font-family='"Liberation Serif", serif' textLength="15.768" lengthAdjust="spacingAndGlyphs">NS</text>
<text x="145.700" y="318.600" font-size="11.8" font-family='"Liberation Serif", serif' textLength="16.868" lengthAdjust="spacingAndGlyphs">NS</text>
<text x="181.700" y="318.600" font-size="11.8" font-family='"Liberation Serif", serif' textLength="15.768" lengthAdjust="spacingAndGlyphs">NS</text>
<text x="306.900" y="307.000" font-size="11.8" font-family='"Liberation Serif", serif' textLength="26.986" lengthAdjust="spacingAndGlyphs">0.001</text>
<text x="358.700" y="307.000" font-size="11.8" font-family='"Liberation Serif", serif' textLength="15.982" lengthAdjust="spacingAndGlyphs">NS</text>
<text x="431.000" y="307.000" font-size="11.8" font-family='"Liberation Serif", serif' textLength="16.172" lengthAdjust="spacingAndGlyphs">NS</text>
<text x="359.700" y="318.600" font-size="11.8" font-family='"Liberation Serif", serif' textLength="27.628" lengthAdjust="spacingAndGlyphs">0.001</text>
<text x="432.000" y="318.600" font-size="11.8" font-family='"Liberation Serif", serif' textLength="28.458" lengthAdjust="spacingAndGlyphs">0.001</text>
<text x="110.000" y="651.700" font-size="11.8" font-family='"Liberation Serif", serif' textLength="27.628" lengthAdjust="spacingAndGlyphs">0.001</text>
<text x="146.100" y="651.700" font-size="11.8" font-family='"Liberation Serif", serif' textLength="15.094" lengthAdjust="spacingAndGlyphs">NS</text>
<text x="181.100" y="651.700" font-size="11.8" font-family='"Liberation Serif", serif' textLength="16.844" lengthAdjust="spacingAndGlyphs">NS</text>
<text x="146.200" y="663.600" font-size="11.8" font-family='"Liberation Serif", serif' textLength="27.628" lengthAdjust="spacingAndGlyphs">0.001</text>
<text x="182.100" y="663.600" font-size="11.8" font-family='"Liberation Serif", serif' textLength="27.609" lengthAdjust="spacingAndGlyphs">0.001</text>
<text x="262.200" y="651.700" font-size="11.8" font-family='"Liberation Serif", serif' textLength="26.547" lengthAdjust="spacingAndGlyphs">0.003</text>
<text x="301.100" y="651.700" font-size="11.8" font-family='"Liberation Serif", serif' textLength="15.094" lengthAdjust="spacingAndGlyphs">NS</text>
<text x="331.100" y="651.700" font-size="11.8" font-family='"Liberation Serif", serif' textLength="19.100" lengthAdjust="spacingAndGlyphs">0.04</text>
<text x="291.900" y="663.600" font-size="11.8" font-family='"Liberation Serif", serif' textLength="27.262" lengthAdjust="spacingAndGlyphs">0.002</text>
<text x="331.100" y="663.600" font-size="11.8" font-family='"Liberation Serif", serif' textLength="20.055" lengthAdjust="spacingAndGlyphs">0.02</text>
<text x="431.500" y="651.700" font-size="11.8" font-family='"Liberation Serif", serif' textLength="16.868" lengthAdjust="spacingAndGlyphs">NS</text>
<text x="467.100" y="651.700" font-size="11.8" font-family='"Liberation Serif", serif' textLength="16.172" lengthAdjust="spacingAndGlyphs">NS</text>
<text x="503.200" y="651.700" font-size="11.8" font-family='"Liberation Serif", serif' textLength="16.430" lengthAdjust="spacingAndGlyphs">NS</text>
<text x="467.100" y="663.600" font-size="11.8" font-family='"Liberation Serif", serif' textLength="16.172" lengthAdjust="spacingAndGlyphs">NS</text>
<text x="503.200" y="663.600" font-size="11.8" font-family='"Liberation Serif", serif' textLength="16.430" lengthAdjust="spacingAndGlyphs">NS</text>
</svg></body></html>
